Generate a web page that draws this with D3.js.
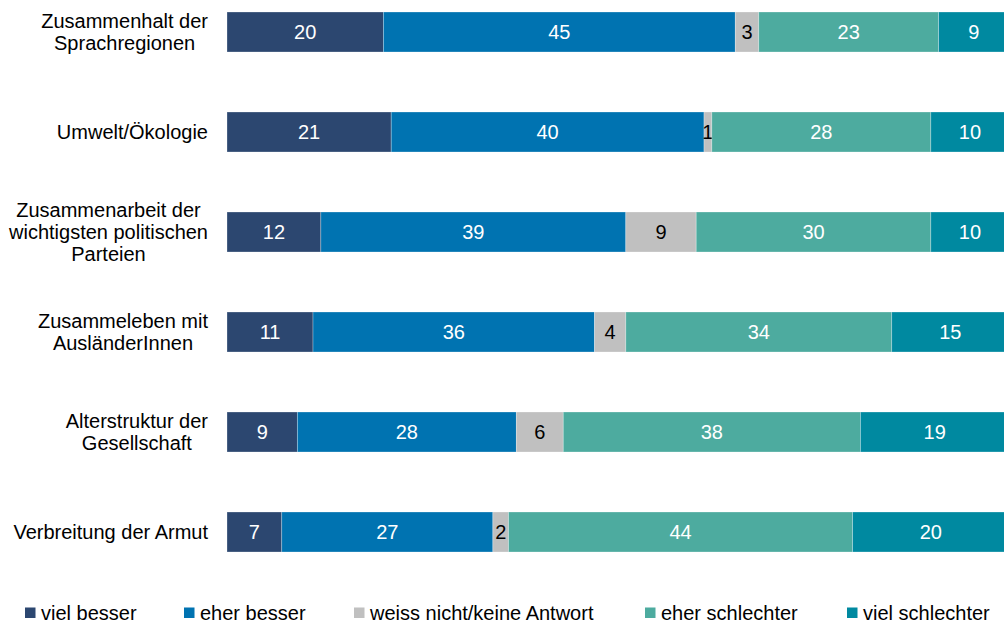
<!DOCTYPE html>
<html>
<head>
<meta charset="utf-8">
<script src="https://cdn.jsdelivr.net/npm/d3@7"></script>
<style>
  html, body { margin: 0; padding: 0; background: #fff; }
  svg { display: block; font-family: "Liberation Sans", Arial, sans-serif; }
</style>
</head>
<body>
<svg id="chart" width="1004" height="625"></svg>
<script>
// Survey items (top to bottom)
const categories = [
  ["Zusammenhalt der", "Sprachregionen"],
  ["Umwelt/Ökologie"],
  ["Zusammenarbeit der", "wichtigsten politischen", "Parteien"],
  ["Zusammeleben mit", "AusländerInnen"],
  ["Alterstruktur der", "Gesellschaft"],
  ["Verbreitung der Armut"]
];
const seriesNames = ["viel besser", "eher besser", "weiss nicht/keine Antwort", "eher schlechter", "viel schlechter"];
const seriesColors = ["#2c4770", "#0073b1", "#c0c0c0", "#4dab9f", "#0089a0"];
const labelColors = ["#ffffff", "#ffffff", "#000000", "#ffffff", "#ffffff"];

const vielBesser     = [20, 21, 12, 11, 9, 7];
const eherBesser     = [45, 40, 39, 36, 28, 27];
const weissNicht     = [3, 1, 9, 4, 6, 2];
const eherSchlechter = [23, 28, 30, 34, 38, 44];
const vielSchlechter = [9, 10, 10, 15, 19, 20];

const series = [vielBesser, eherBesser, weissNicht, eherSchlechter, vielSchlechter];

const svg = d3.select("#chart");
const fontSize = 20;

const x = d3.scaleLinear().domain([0, 100]).range([227, 1009]);
const y = d3.scaleBand().domain(d3.range(categories.length)).range([-18, 582]).paddingInner(0.6).paddingOuter(0.3);

// Build stacked rows
const rows = categories.map((c, i) => {
  const o = { idx: i };
  seriesNames.forEach((s, k) => o[s] = series[k][i]);
  return o;
});
const stack = d3.stack().keys(seriesNames)(rows);

const barH = 40;
const barY = i => y(i) + y.bandwidth() / 2 - barH / 2;

stack.forEach((layer, k) => {
  const g = svg.append("g");
  g.selectAll("rect").data(layer).join("rect")
    .attr("x", d => x(d[0]))
    .attr("y", d => barY(d.data.idx))
    .attr("width", d => x(d[1]) - x(d[0]))
    .attr("height", barH)
    .attr("fill", seriesColors[k])
    .attr("stroke", "rgba(255,255,255,0.35)")
    .attr("stroke-width", 0.8);
  g.selectAll("text").data(layer).join("text")
    .attr("x", d => (x(d[0]) + x(d[1])) / 2)
    .attr("y", d => barY(d.data.idx) + barH / 2)
    .attr("dy", "0.36em")
    .attr("text-anchor", "middle")
    .attr("font-size", fontSize)
    .attr("fill", labelColors[k])
    .text(d => d[1] - d[0]);
});

// Category labels: each block is centred on itself and right-aligned against the bars
const cat = svg.append("g");
const labelRight = 208;
categories.forEach((lines, i) => {
  const cy = barY(i) + barH / 2;
  const lh = 22;
  const t = cat.append("text")
    .attr("text-anchor", "middle")
    .attr("font-size", fontSize)
    .attr("fill", "#000");
  const spans = lines.map((ln, j) => t.append("tspan")
    .attr("y", cy + (j - (lines.length - 1) / 2) * lh)
    .attr("dy", "0.36em")
    .text(ln));
  const maxW = d3.max(spans, s => s.node().getComputedTextLength());
  spans.forEach(s => s.attr("x", labelRight - maxW / 2));
});

// Legend
const legendX = [25, 184, 354, 645, 847];
const leg = svg.append("g");
seriesNames.forEach((s, k) => {
  leg.append("rect")
    .attr("x", legendX[k]).attr("y", 607.5)
    .attr("width", 10.5).attr("height", 10.5)
    .attr("fill", seriesColors[k]);
  leg.append("text")
    .attr("x", legendX[k] + 16).attr("y", 613)
    .attr("dy", "0.36em")
    .attr("font-size", fontSize)
    .attr("fill", "#000")
    .text(s);
});
</script>
</body>
</html>
